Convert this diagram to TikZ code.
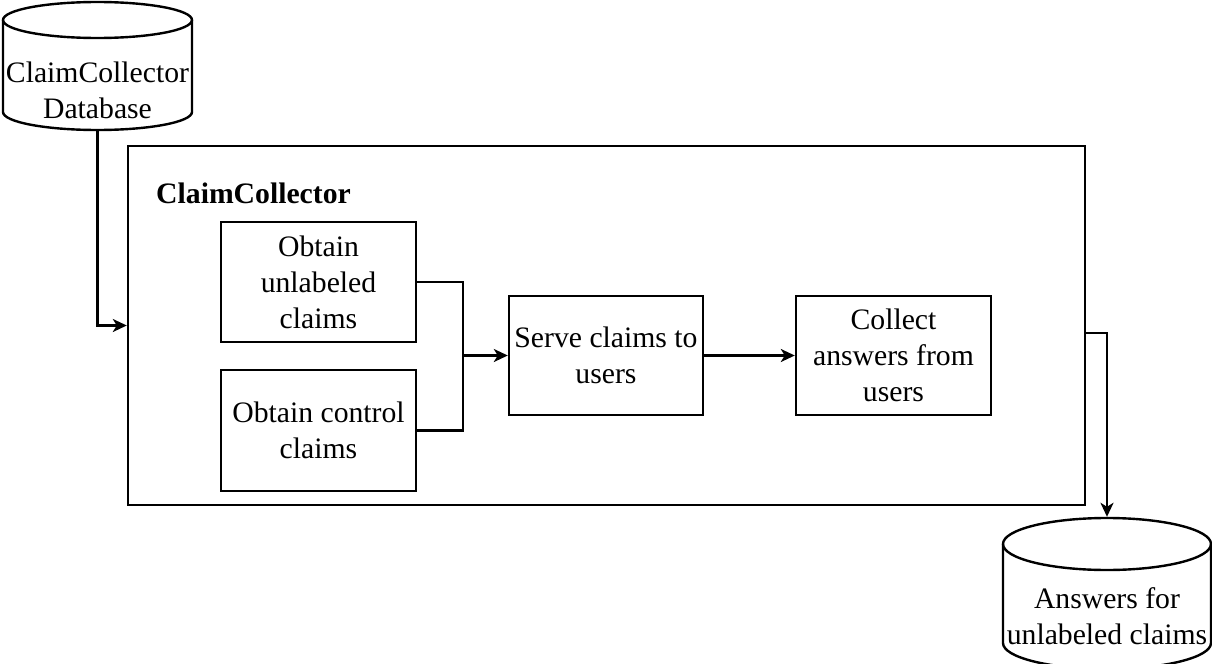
\documentclass[tikz,border=0pt]{standalone}
\usepackage{fontspec}
\setmainfont{Liberation Serif}
\usetikzlibrary{arrows.meta,calc}
\begin{document}
\begin{tikzpicture}[x=0.5pt,y=-0.5pt,
  line width=1.2pt,
  every node/.style={font=\fontsize{14.85}{18}\selectfont, inner sep=0pt, align=center},
  stepbox/.style={draw, minimum width=97.5pt, minimum height=60pt},
  arr/.style={-{Stealth[length=7pt,width=6.5pt,inset=2pt]}}]
\useasboundingbox (0,0) rectangle (1212,664);

% outer frame
\node[draw, minimum width=478.5pt, minimum height=179.5pt] (cc) at (606.5,325.5) {};
\node[anchor=west, font=\fontsize{14.85}{18}\selectfont\bfseries] (cctitle) at (155,193) {ClaimCollector};

% processing steps
\node[stepbox] (b1) at (318.5,282) {Obtain\\unlabeled\\claims};
\node[stepbox, minimum height=60.5pt] (b2) at (318.5,430.5) {Obtain control\\claims};
\node[stepbox, minimum width=97pt, minimum height=59.5pt] (serve) at (606,355.5) {Serve claims to\\users};
\node[stepbox, minimum height=59.5pt] (collect) at (893.5,355.5) {Collect\\answers from\\users};

% source database cylinder
\node[minimum width=94.5pt, minimum height=64pt] (db) at (97.5,66) {};
\draw (97.5,20) ellipse [x radius=94.5, y radius=18];
\draw (3,20) -- (3,112) arc[start angle=180, end angle=0, x radius=94.5, y radius=18] -- (192,20);
\node (dbtext) at (97.5,90) {ClaimCollector\\Database};

% answers database cylinder
\node[minimum width=104pt, minimum height=75pt] (ans) at (1107,593) {};
\draw (1107,544) ellipse [x radius=104, y radius=26];
\draw (1003,544) -- (1003,643) arc[start angle=180, end angle=0, x radius=104, y radius=26] -- (1211,544);
\node (anstext) at (1107,616) {Answers for\\unlabeled claims};

% connectors
\coordinate (join) at (463,355.5);
\draw (b1.east) -| (join);
\draw (b2.east) -| (join);
\draw[arr] (join) -- (serve.west);
\draw[arr] (serve.east) -- (collect.west);
\draw[arr] (db.south) |- (cc.west);
\draw[arr] ([yshift=-3.75pt]cc.east) -| (ans.north);
\end{tikzpicture}
\end{document}
